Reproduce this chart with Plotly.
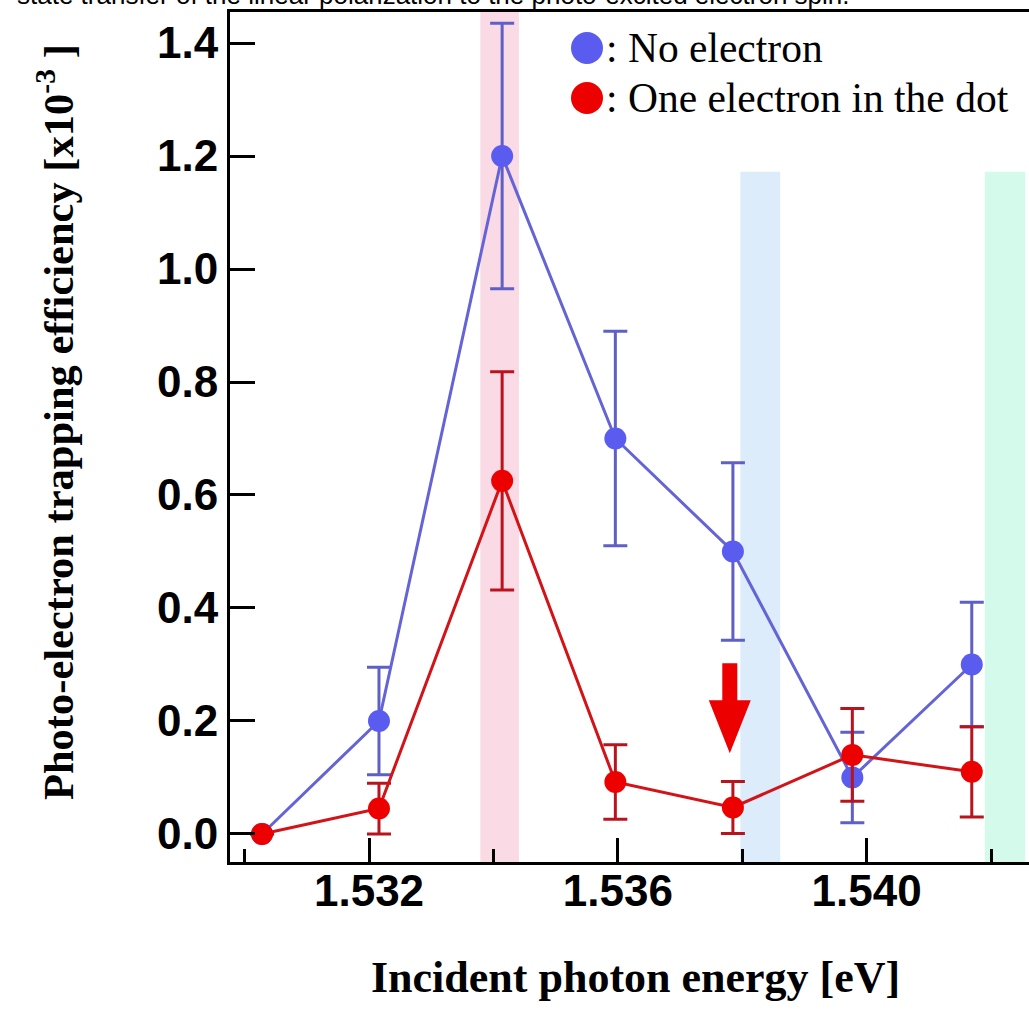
import plotly.graph_objects as go

# ---- data ----
energy = [1.53028, 1.53216, 1.53414, 1.53596, 1.53785, 1.53977, 1.54169]
no_electron = [0.0, 0.2, 1.2, 0.7, 0.5, 0.1, 0.3]
no_electron_err = [0.0, 0.095, 0.235, 0.19, 0.157, 0.08, 0.11]
one_electron = [0.0, 0.045, 0.625, 0.092, 0.047, 0.14, 0.11]
one_electron_err = [0.0, 0.045, 0.193, 0.066, 0.046, 0.082, 0.08]

x_ticks = [1.532, 1.536, 1.540]
y_ticks = [0.0, 0.2, 0.4, 0.6, 0.8, 1.0, 1.2, 1.4]

# highlight bands (energy ranges) and their top values
bands = [(1.53379, 1.53441, None, "rgb(250,218,228)"),
         (1.53797, 1.53861, 1.172, "rgb(220,236,250)"),
         (1.54190, 1.54255, 1.172, "rgb(212,250,236)")]
arrow_energy = 1.5378
arrow_tip = 0.143

x_range = [1.529765, 1.54261]
y_range = [-0.0496, 1.4549]

blue_m = "rgb(90,92,240)"
blue_l = "rgb(100,100,215)"
blue_e = "rgb(95,95,200)"
red_m = "rgb(236,0,0)"
red_l = "rgb(210,20,25)"
red_e = "rgb(185,20,30)"

fig = go.Figure()

fig.add_trace(go.Scatter(
    x=energy, y=no_electron, mode="lines+markers", name="No electron",
    line=dict(color=blue_l, width=3),
    marker=dict(color=blue_m, size=22),
    error_y=dict(type="data", array=no_electron_err, visible=True,
                 color=blue_e, thickness=3, width=12),
    showlegend=False))
fig.add_trace(go.Scatter(
    x=energy, y=one_electron, mode="lines+markers", name="One electron in the dot",
    line=dict(color=red_l, width=3),
    marker=dict(color=red_m, size=22),
    error_y=dict(type="data", array=one_electron_err, visible=True,
                 color=red_e, thickness=3, width=12),
    showlegend=False))

shapes = []
for x0, x1, top, col in bands:
    shapes.append(dict(type="rect", xref="x", yref="y", x0=x0, x1=x1,
                       y0=y_range[0], y1=(y_range[1] if top is None else top),
                       fillcolor=col, line=dict(width=0), layer="below"))

# red downward arrow
shapes.append(dict(type="path", xref="x", yref="y",
                   xsizemode="pixel", ysizemode="pixel",
                   xanchor=arrow_energy, yanchor=arrow_tip,
                   path="M 0,0 L -21,53 L -7.5,53 L -7.5,90 L 7.5,90 L 7.5,53 L 21,53 Z",
                   fillcolor="rgb(236,0,0)", line=dict(width=0)))

legend_items = [("No electron", blue_m), ("One electron in the dot", red_m)]
annotations = []
leg_y_px = [48, 98]
plot_top = 12
plot_h = 850
plot_left = 230
plot_w = 799
for (label, col), ypx in zip(legend_items, leg_y_px):
    yp = 1 - (ypx - plot_top) / plot_h
    xp = (587 - plot_left) / plot_w
    shapes.append(dict(type="circle", xref="paper", yref="paper",
                       xsizemode="pixel", ysizemode="pixel",
                       xanchor=xp, yanchor=yp,
                       x0=-16, x1=16, y0=-16, y1=16,
                       fillcolor=col, line=dict(width=0)))
    annotations.append(dict(xref="paper", yref="paper", x=(604 - plot_left) / plot_w,
                            y=yp, xanchor="left", yanchor="middle",
                            text=": " + label, showarrow=False,
                            font=dict(family="Liberation Serif", size=41.5, color="black")))

# axis titles
annotations.append(dict(xref="paper", yref="paper", x=(635 - plot_left) / plot_w,
                        y=(862 - 977) / plot_h, xanchor="center", yanchor="middle",
                        text="<b>Incident photon energy [eV]</b>", showarrow=False,
                        font=dict(family="Liberation Serif", size=44, color="black")))
annotations.append(dict(xref="paper", yref="paper", x=(55 - plot_left) / plot_w,
                        y=(862 - 422) / plot_h, xanchor="center", yanchor="middle",
                        textangle=-90,
                        text="<b>Photo-electron trapping efficiency [x10<sup>-3</sup> ]</b>",
                        showarrow=False,
                        font=dict(family="Liberation Serif", size=42.5, color="black")))
# cut-off caption above the chart
annotations.append(dict(xref="paper", yref="paper", x=(16 - plot_left) / plot_w,
                        y=1 + 1 / plot_h, xanchor="left", yanchor="bottom",
                        borderpad=0,
                        text="state transfer of the linear polarization to the photo-excited electron spin.",
                        showarrow=False,
                        font=dict(family="Liberation Sans", size=26, color="black")))

tick_font = dict(family="Liberation Sans", size=44, color="black", weight="bold")

fig.update_layout(
    width=1029, height=1012,
    margin=dict(l=230, r=0, t=12, b=150),
    paper_bgcolor="white", plot_bgcolor="white",
    shapes=shapes, annotations=annotations,
    xaxis=dict(range=x_range, tickvals=x_ticks, tickformat=".3f",
               ticks="inside", ticklen=24, tickwidth=3, tickcolor="black",
               minor=dict(dtick=0.002, tick0=1.530, ticks="inside", ticklen=13,
                          tickwidth=3, tickcolor="black"),
               ticklabelstandoff=-12,
               showline=True, linecolor="black", linewidth=3, mirror=True,
               showgrid=False, zeroline=False, tickfont=tick_font),
    yaxis=dict(range=y_range, tickvals=y_ticks, tickformat=".1f",
               ticks="inside", ticklen=25, tickwidth=3, tickcolor="black",
               showline=True, linecolor="black", linewidth=3,
               showgrid=False, zeroline=False, tickfont=tick_font),
)

fig.write_html("out.html")
